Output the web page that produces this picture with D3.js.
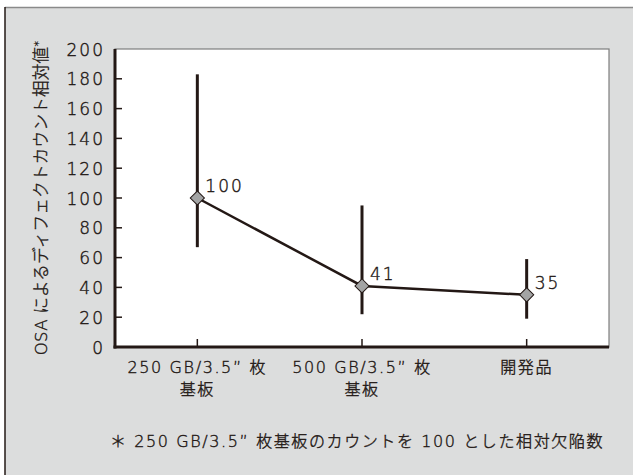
<!DOCTYPE html>
<html>
<head>
<meta charset="utf-8">
<script src="https://cdn.jsdelivr.net/npm/d3@7"></script>
<style>
  body { margin: 0; background: #fff; }
  text { font-family: "DejaVu Sans", "Noto Sans CJK JP", sans-serif; font-weight: 200; fill: #231815;
         stroke: #231815; stroke-width: 0.4px; }
</style>
</head>
<body>
<div id="chart"></div>
<script>
// data
var categories = ["250GB", "500GB", "dev"];
var catLines = [["250 GB/3.5\u201D 枚", "基板"], ["500 GB/3.5\u201D 枚", "基板"], ["開発品"]];
var values = [100, 41, 35];
var errHigh = [183, 95, 59];
var errLow = [67, 22, 19];
var yTicks = [0, 20, 40, 60, 80, 100, 120, 140, 160, 180, 200];

var W = 633, H = 475;
var margin = { top: 49, right: 24, bottom: 128, left: 115 },
  width = W - margin.left - margin.right,
  height = H - margin.top - margin.bottom;

var dark = "#231815";

var svg = d3.select("#chart").append("svg")
  .attr("width", W)
  .attr("height", H);

// grey panel
svg.append("rect").attr("x", 5).attr("y", 7).attr("width", W - 5).attr("height", H - 7)
  .attr("fill", "#dcdddd");
svg.append("line").attr("x1", 5).attr("x2", W).attr("y1", 7.5).attr("y2", 7.5)
  .attr("stroke", "#8a8a8a").attr("stroke-width", 1.5);
svg.append("line").attr("x1", 5).attr("x2", 5).attr("y1", 7).attr("y2", H)
  .attr("stroke", dark).attr("stroke-width", 1.5);

var g = svg.append("g").attr("transform", "translate(" + margin.left + "," + margin.top + ")");

// plot area
g.append("rect").attr("width", width).attr("height", height)
  .attr("fill", "#fff").attr("stroke", "#7d7d7d").attr("stroke-width", 1.2);

var x = d3.scalePoint().domain(categories).range([0, width]).padding(0.5);
var y = d3.scaleLinear().domain([0, 200]).range([height, 0]);

// y axis
var yAxis = g.append("g")
  .call(d3.axisLeft(y).tickValues(yTicks).tickSize(0).tickPadding(10).tickFormat(d3.format("d")));
yAxis.select(".domain").remove();
yAxis.selectAll("text").style("font-size", "17px").attr("letter-spacing", "2px").attr("dy", "0.36em")
  .attr("fill", dark);
yAxis.selectAll(".tick line").remove();

// inner ticks
g.selectAll(".ytick").data(yTicks.filter(d => d > 0 && d < 200)).enter().append("line")
  .attr("x1", 0).attr("x2", 7).attr("y1", d => y(d)).attr("y2", d => y(d))
  .attr("stroke", dark).attr("stroke-width", 1.5);
g.selectAll(".xtick").data(categories).enter().append("line")
  .attr("x1", d => x(d)).attr("x2", d => x(d)).attr("y1", height).attr("y2", height - 8)
  .attr("stroke", dark).attr("stroke-width", 1.5);

// axes lines
g.append("line").attr("x1", 0).attr("x2", 0).attr("y1", 0).attr("y2", height + 1.5)
  .attr("stroke", dark).attr("stroke-width", 3);
g.append("line").attr("x1", -1.5).attr("x2", width).attr("y1", height).attr("y2", height)
  .attr("stroke", dark).attr("stroke-width", 3);

// x labels
categories.forEach(function (c, i) {
  var t = g.append("text").attr("text-anchor", "middle").style("font-size", "16px")
    .attr("letter-spacing", "1.6px")
    .attr("x", x(c)).attr("y", height + 26);
  catLines[i].forEach(function (line, j) {
    t.append("tspan").attr("x", x(c)).attr("dy", j == 0 ? 0 : 22).text(line);
  });
});

// error bars
g.selectAll(".err").data(categories).enter().append("line")
  .attr("x1", d => x(d)).attr("x2", d => x(d))
  .attr("y1", (d, i) => y(errHigh[i])).attr("y2", (d, i) => y(errLow[i]))
  .attr("stroke", dark).attr("stroke-width", 3);

// line
var line = d3.line().x((d, i) => x(categories[i])).y(d => y(d));
g.append("path").datum(values).attr("d", line)
  .attr("fill", "none").attr("stroke", dark).attr("stroke-width", 2.5);

// markers
g.selectAll(".pt").data(values).enter().append("path")
  .attr("d", d3.symbol().type(d3.symbolSquare).size(100))
  .attr("transform", (d, i) => "translate(" + x(categories[i]) + "," + y(d) + ") rotate(45)")
  .attr("fill", "#a3a4a4").attr("stroke", dark).attr("stroke-width", 1);

// value labels
g.selectAll(".val").data(values).enter().append("text")
  .attr("x", (d, i) => x(categories[i]) + 8)
  .attr("y", d => y(d) - 6)
  .style("font-size", "17px")
  .attr("letter-spacing", "2px")
  .text(d => d);

// y title
var yt = svg.append("text")
  .attr("transform", "translate(47,198) rotate(-90)")
  .attr("text-anchor", "middle")
  .style("font-size", "16.5px")
  .attr("letter-spacing", "0.3px");
yt.append("tspan").text("OSA によるディフェクトカウント相対値");
yt.append("tspan").attr("dy", "-0.5em").style("font-size", "11px").text("*");

// footnote
svg.append("text")
  .attr("x", 357).attr("y", 447)
  .attr("text-anchor", "middle")
  .style("font-size", "16px")
  .attr("letter-spacing", "1.6px")
  .text("\uFF0A 250 GB/3.5\u201D 枚基板のカウントを 100 とした相対欠陥数");
</script>
</body>
</html>
